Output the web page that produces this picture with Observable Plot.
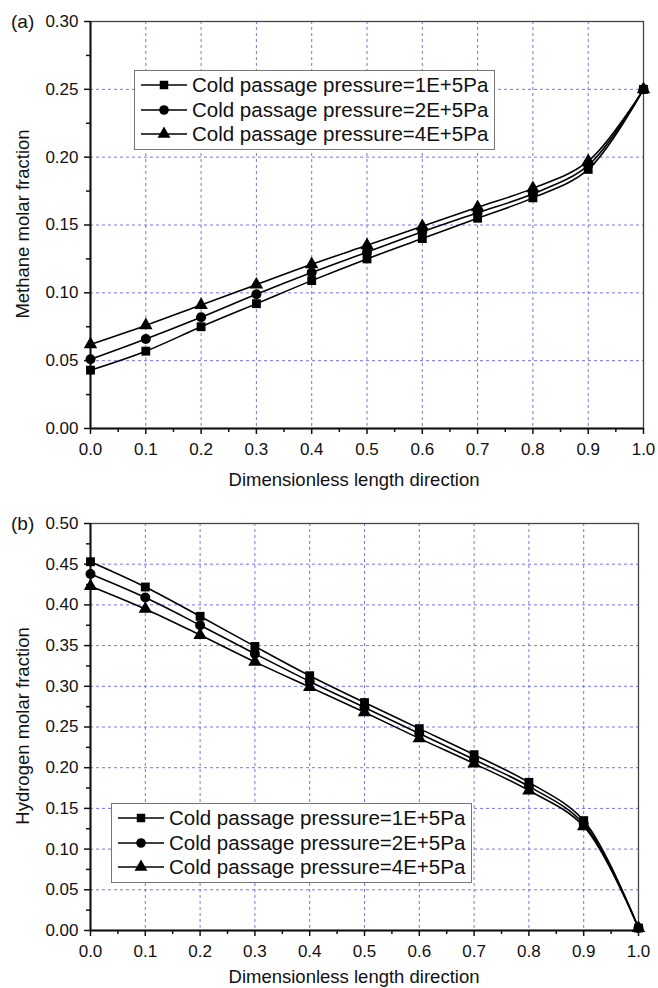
<!DOCTYPE html>
<html>
<head>
<meta charset="utf-8">
<script src="https://cdn.jsdelivr.net/npm/d3@7"></script>
<script src="https://cdn.jsdelivr.net/npm/@observablehq/plot@0.6"></script>
<style>
  html, body { margin: 0; padding: 0; background: #fff; }
  body { font-family: "Liberation Sans", Arial, sans-serif; }
  #wrap { position: relative; width: 658px; height: 988px; overflow: hidden; }
  .panel { position: absolute; left: 0; }
  .lbl { position: absolute; color: #111; white-space: nowrap; line-height: 1; }
  .ylab { transform: translate(-50%, -50%) rotate(-90deg); }
  .legend { position: absolute; background: #fff; border: 1px solid #777; box-sizing: border-box; }
  .legend .row { display: flex; align-items: center; height: 24.5px; white-space: nowrap; }
  .legend .row span { font-size: 20.5px; color: #111; margin-left: 5px; line-height: 1; white-space: nowrap; flex: none; }
</style>
</head>
<body>
<div id="wrap"></div>
<script>
// ---- data ----
const xPos = [0.0, 0.1, 0.2, 0.3, 0.4, 0.5, 0.6, 0.7, 0.8, 0.9, 1.0];
const seriesNames = ["Cold passage pressure=1E+5Pa", "Cold passage pressure=2E+5Pa", "Cold passage pressure=4E+5Pa"];
const seriesSymbols = ["square", "circle", "triangle"];

const methane1E5 = [0.043, 0.057, 0.075, 0.092, 0.109, 0.125, 0.140, 0.155, 0.170, 0.191, 0.250];
const methane2E5 = [0.051, 0.066, 0.082, 0.099, 0.115, 0.130, 0.145, 0.159, 0.173, 0.194, 0.250];
const methane4E5 = [0.062, 0.076, 0.091, 0.106, 0.121, 0.135, 0.149, 0.163, 0.177, 0.197, 0.250];

const hydrogen1E5 = [0.453, 0.422, 0.386, 0.349, 0.313, 0.280, 0.248, 0.216, 0.182, 0.135, 0.003];
const hydrogen2E5 = [0.438, 0.409, 0.375, 0.340, 0.306, 0.274, 0.242, 0.210, 0.177, 0.131, 0.003];
const hydrogen4E5 = [0.423, 0.395, 0.363, 0.330, 0.299, 0.268, 0.236, 0.205, 0.172, 0.128, 0.003];

const xTicks = [0.0, 0.1, 0.2, 0.3, 0.4, 0.5, 0.6, 0.7, 0.8, 0.9, 1.0];
const xMinorTicks = [0.05, 0.15, 0.25, 0.35, 0.45, 0.55, 0.65, 0.75, 0.85, 0.95];
const yTicksA = [0.00, 0.05, 0.10, 0.15, 0.20, 0.25, 0.30];
const yMinorA = [0.025, 0.075, 0.125, 0.175, 0.225, 0.275];
const yTicksB = [0.00, 0.05, 0.10, 0.15, 0.20, 0.25, 0.30, 0.35, 0.40, 0.45, 0.50];
const yMinorB = [0.025, 0.075, 0.125, 0.175, 0.225, 0.275, 0.325, 0.375, 0.425, 0.475];

const FONT = '"Liberation Sans", Arial, sans-serif';
const GRID = "#7474f2";

function toRows(arrs) {
  const rows = [];
  arrs.forEach((a, k) => a.forEach((v, i) => rows.push({x: xPos[i], y: v, s: seriesNames[k], sym: seriesSymbols[k]})));
  return rows;
}

function makePanel(cfg) {
  const rows = toRows(cfg.series);
  return Plot.plot({
    width: 658,
    height: cfg.height,
    marginTop: cfg.mt, marginBottom: cfg.mb, marginLeft: cfg.ml, marginRight: cfg.mr,
    style: {fontFamily: FONT, fontSize: "17px", color: "#111", background: "#fff"},
    x: {domain: [0, 1]},
    y: {domain: cfg.ydomain},
    symbol: {domain: seriesSymbols, range: seriesSymbols},
    marks: [
      Plot.gridX(xTicks.slice(1, -1), {stroke: GRID, strokeOpacity: 1, strokeWidth: 1, strokeDasharray: "3,3"}),
      Plot.gridY(cfg.yticks.slice(1, -1), {stroke: GRID, strokeOpacity: 1, strokeWidth: 1, strokeDasharray: "3,3"}),
      Plot.frame({stroke: "#444", strokeWidth: 1.3}),
      Plot.axisX(xTicks, {tickFormat: ".1f", tickSize: 6, tickPadding: 8, strokeWidth: 1.5, label: null, fontSize: 17}),
      Plot.axisX(xMinorTicks, {tickSize: 4, text: null, strokeWidth: 1.5, label: null}),
      Plot.axisY(cfg.yticks, {tickFormat: ".2f", tickSize: 6, tickPadding: 6, strokeWidth: 1.5, label: null, fontSize: 17}),
      Plot.axisY(cfg.yminor, {tickSize: 4, text: null, strokeWidth: 1.5, label: null}),
      Plot.ruleX([0], {stroke: "#111", strokeWidth: 2}),
      Plot.ruleY([cfg.ydomain[0]], {stroke: "#111", strokeWidth: 2}),
      Plot.line(rows, {x: "x", y: "y", z: "s", stroke: "#000", strokeWidth: 1.6, curve: "catmull-rom"}),
      Plot.dot(rows, {x: "x", y: "y", symbol: "sym", fill: "#000", stroke: "none", r: 5})
    ]
  });
}

const wrap = document.getElementById("wrap");

function addPanel(top, cfg) {
  const d = document.createElement("div");
  d.className = "panel";
  d.style.top = top + "px";
  d.appendChild(makePanel(cfg));
  wrap.appendChild(d);
}

addPanel(0, {
  height: 495, mt: 21, mb: 67, ml: 90, mr: 15,
  ydomain: [0, 0.30], yticks: yTicksA, yminor: yMinorA,
  series: [methane1E5, methane2E5, methane4E5]
});
addPanel(495, {
  height: 493, mt: 28, mb: 58, ml: 90, mr: 20,
  ydomain: [0, 0.50], yticks: yTicksB, yminor: yMinorB,
  series: [hydrogen1E5, hydrogen2E5, hydrogen4E5]
});

function addLabel(text, x, y, size, cls, anchor) {
  const el = document.createElement("div");
  el.className = "lbl " + (cls || "");
  el.textContent = text;
  el.style.fontSize = size + "px";
  el.style.left = x + "px";
  el.style.top = y + "px";
  if (!cls) el.style.transform = anchor === "center" ? "translate(-50%, -50%)" : "translate(0, -50%)";
  wrap.appendChild(el);
}

addLabel("(a)", 11, 21, 19);
addLabel("(b)", 11, 523, 19);
addLabel("Methane molar fraction", 23, 224, 18.5, "ylab");
addLabel("Hydrogen molar fraction", 23, 726, 18.5, "ylab");
addLabel("Dimensionless length direction", 354, 480, 18.5, null, "center");
addLabel("Dimensionless length direction", 354, 977, 18.5, null, "center");

function symbolSvg(sym) {
  const s = d3.symbol().type(sym === "square" ? d3.symbolSquare : sym === "circle" ? d3.symbolCircle : d3.symbolTriangle).size(72)();
  return `<svg width="46" height="14" style="overflow:visible;flex:none"><line x1="0" x2="46" y1="7" y2="7" stroke="#000" stroke-width="1.6"/><path d="${s}" transform="translate(23,7)" fill="#000"/></svg>`;
}

function addLegend(left, top, width) {
  const lg = document.createElement("div");
  lg.className = "legend";
  lg.style.left = left + "px";
  lg.style.top = top + "px";
  lg.style.width = width + "px";
  lg.style.padding = "2px 0 2px 6px";
  seriesNames.forEach((n, i) => {
    const r = document.createElement("div");
    r.className = "row";
    r.innerHTML = symbolSvg(seriesSymbols[i]) + `<span>${n}</span>`;
    lg.appendChild(r);
  });
  wrap.appendChild(lg);
}
addLegend(134, 70, 361);
addLegend(111, 803, 361);
</script>
</body>
</html>
